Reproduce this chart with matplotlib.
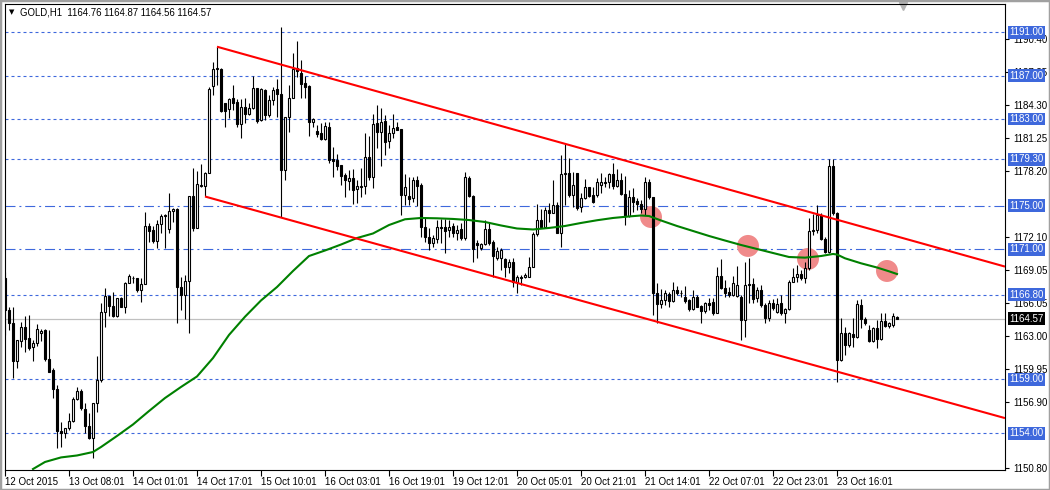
import numpy as np
import matplotlib.pyplot as plt
from matplotlib.patches import Rectangle

plt.rcParams['font.family'] = ['Liberation Sans', 'DejaVu Sans']

# GOLD H1 candles, 224 bars (12 Oct - 23 Oct 2015)
opens = [
    1168.31, 1165.38, 1164.16, 1160.70, 1162.55, 1163.79, 1162.80, 1161.94, 1162.31, 1163.23,
    1163.57, 1160.86, 1159.85, 1158.07, 1154.25, 1154.01, 1154.47, 1155.14, 1157.17, 1157.94,
    1156.25, 1154.71, 1153.55, 1156.78, 1158.93, 1165.22, 1166.70, 1165.78, 1164.86, 1166.46,
    1165.69, 1167.85, 1168.31, 1168.31, 1167.23, 1167.75, 1173.16, 1172.76, 1171.75, 1173.32,
    1174.05, 1172.85, 1174.52, 1174.70, 1167.50, 1166.77, 1168.06, 1175.90, 1172.95, 1176.82,
    1176.82, 1178.02, 1186.05, 1187.61, 1187.61, 1184.48, 1183.90, 1184.91, 1184.60, 1182.51,
    1184.08, 1183.44, 1183.99, 1185.83, 1182.91, 1185.68, 1183.37, 1184.76, 1185.74, 1185.31,
    1178.30, 1183.21, 1184.97, 1187.68, 1187.22, 1186.35, 1186.05, 1182.70, 1181.92, 1181.68,
    1181.16, 1182.24, 1179.28, 1179.22, 1178.76, 1177.84, 1177.31, 1177.59, 1176.52, 1176.76,
    1176.85, 1179.47, 1177.68, 1182.61, 1181.83, 1182.82, 1181.00, 1181.74, 1182.24, 1182.05,
    1175.99, 1175.90, 1175.69, 1177.38, 1176.91, 1173.01, 1172.09, 1171.54, 1171.93, 1173.07,
    1173.01, 1172.76, 1173.13, 1172.51, 1172.83, 1171.99, 1177.53, 1175.90, 1171.59, 1171.07,
    1171.47, 1172.83, 1171.63, 1170.21, 1170.15, 1170.09, 1169.38, 1169.78, 1167.94, 1168.45,
    1168.40, 1168.45, 1169.38, 1172.37, 1173.68, 1173.07, 1174.61, 1174.30, 1175.07, 1172.51,
    1177.90, 1177.99, 1175.99, 1177.99, 1174.91, 1175.69, 1176.70, 1175.99, 1175.99, 1176.91,
    1177.22, 1177.22, 1177.93, 1176.82, 1177.38, 1176.08, 1174.05, 1175.83, 1175.44, 1175.13,
    1174.67, 1177.22, 1175.78, 1166.92, 1165.94, 1166.31, 1166.86, 1166.24, 1167.23, 1166.98,
    1166.61, 1166.31, 1165.45, 1166.61, 1165.78, 1165.32, 1166.06, 1166.15, 1165.13, 1168.52,
    1167.38, 1167.07, 1166.77, 1166.67, 1166.61, 1164.46, 1167.69, 1167.75, 1166.46, 1167.23,
    1165.84, 1164.62, 1166.06, 1165.22, 1166.00, 1165.08, 1165.45, 1167.99, 1168.40, 1168.68,
    1168.31, 1169.23, 1172.67, 1172.76, 1174.15, 1171.90, 1170.76, 1178.67, 1174.30, 1160.77,
    1163.29, 1162.15, 1163.17, 1162.86, 1165.84, 1164.52, 1163.54, 1162.55, 1163.69, 1162.68,
    1164.37, 1163.91, 1164.00, 1164.76,
]
highs = [
    1168.92, 1165.69, 1165.69, 1162.62, 1164.25, 1164.86, 1164.92, 1162.62, 1164.09, 1163.63,
    1163.63, 1163.54, 1160.00, 1158.46, 1155.08, 1154.53, 1155.85, 1157.38, 1158.25, 1158.07,
    1156.78, 1155.85, 1156.78, 1161.14, 1166.00, 1167.44, 1166.70, 1167.02, 1166.46, 1166.61,
    1167.99, 1168.70, 1168.52, 1168.36, 1168.31, 1174.40, 1173.41, 1173.13, 1173.68, 1174.24,
    1174.24, 1176.18, 1174.79, 1174.79, 1168.43, 1168.61, 1175.90, 1178.48, 1178.21, 1178.85,
    1178.11, 1185.95, 1188.26, 1189.64, 1187.71, 1184.51, 1184.91, 1186.14, 1184.85, 1184.85,
    1184.91, 1184.45, 1187.00, 1185.89, 1185.83, 1185.74, 1185.22, 1185.98, 1186.66, 1191.52,
    1183.21, 1186.14, 1189.06, 1190.23, 1188.45, 1186.97, 1186.14, 1183.07, 1182.45, 1182.61,
    1182.75, 1182.75, 1180.39, 1179.77, 1178.76, 1177.99, 1178.30, 1178.36, 1177.38, 1178.45,
    1181.68, 1181.43, 1183.46, 1184.29, 1183.99, 1183.37, 1182.45, 1183.46, 1182.75, 1182.05,
    1177.93, 1177.68, 1177.68, 1177.74, 1177.13, 1173.84, 1172.92, 1172.30, 1173.68, 1173.75,
    1173.75, 1173.68, 1173.38, 1173.22, 1173.38, 1178.09, 1177.74, 1175.99, 1171.84, 1171.54,
    1173.68, 1173.38, 1171.84, 1171.17, 1171.13, 1170.21, 1170.06, 1170.15, 1168.61, 1168.61,
    1168.77, 1170.30, 1172.61, 1175.16, 1174.67, 1174.86, 1175.23, 1177.38, 1175.37, 1179.68,
    1180.70, 1179.38, 1178.14, 1177.99, 1176.15, 1177.44, 1176.76, 1176.76, 1177.53, 1177.99,
    1177.68, 1177.99, 1178.97, 1178.36, 1178.05, 1177.74, 1176.45, 1176.61, 1175.69, 1175.53,
    1177.68, 1177.44, 1175.83, 1167.90, 1167.29, 1167.23, 1167.07, 1167.99, 1167.60, 1167.23,
    1167.60, 1166.37, 1167.23, 1166.77, 1165.84, 1166.15, 1166.46, 1166.46, 1169.38, 1170.06,
    1168.15, 1167.53, 1168.52, 1169.44, 1166.77, 1169.84, 1170.18, 1168.31, 1167.53, 1167.69,
    1166.00, 1166.31, 1166.37, 1166.46, 1166.77, 1165.54, 1168.15, 1169.23, 1169.53, 1169.07,
    1169.84, 1173.84, 1174.21, 1175.07, 1174.30, 1172.14, 1179.35, 1179.35, 1174.45, 1164.62,
    1163.84, 1163.38, 1164.62, 1166.31, 1166.37, 1164.76, 1164.00, 1163.84, 1164.46, 1165.08,
    1165.13, 1164.31, 1165.08, 1164.87,
]
lows = [
    1163.08, 1163.54, 1159.08, 1160.00, 1161.94, 1161.54, 1161.69, 1160.70, 1162.09, 1162.55,
    1160.70, 1159.64, 1157.24, 1152.62, 1152.77, 1153.55, 1154.31, 1155.08, 1157.08, 1156.16,
    1154.01, 1153.48, 1151.70, 1156.00, 1158.77, 1163.79, 1164.86, 1164.76, 1164.76, 1165.69,
    1165.08, 1167.85, 1167.87, 1167.07, 1166.15, 1167.75, 1171.68, 1171.56, 1171.10, 1172.49,
    1171.10, 1172.49, 1173.50, 1164.18, 1165.38, 1164.55, 1163.26, 1172.67, 1172.95, 1176.73,
    1175.90, 1178.02, 1185.22, 1186.14, 1183.65, 1182.29, 1183.07, 1183.83, 1182.29, 1181.22,
    1182.61, 1183.37, 1183.90, 1182.61, 1182.85, 1182.91, 1183.21, 1184.29, 1183.21, 1173.99,
    1177.38, 1181.83, 1184.91, 1186.90, 1184.91, 1184.91, 1181.43, 1182.29, 1181.37, 1181.07,
    1181.07, 1178.92, 1177.62, 1178.30, 1176.91, 1175.83, 1176.45, 1175.16, 1175.23, 1175.83,
    1176.08, 1177.38, 1176.61, 1180.30, 1178.67, 1179.68, 1180.30, 1181.22, 1181.99, 1174.15,
    1175.07, 1175.07, 1175.37, 1174.98, 1172.14, 1171.68, 1170.92, 1171.22, 1171.54, 1171.54,
    1170.67, 1172.14, 1172.14, 1171.84, 1171.84, 1171.84, 1175.83, 1169.84, 1170.15, 1170.92,
    1171.38, 1171.38, 1168.45, 1170.00, 1169.07, 1168.45, 1168.77, 1167.53, 1166.92, 1167.69,
    1168.31, 1168.40, 1169.32, 1172.21, 1172.92, 1172.97, 1173.53, 1174.30, 1172.46, 1171.22,
    1175.07, 1175.83, 1174.91, 1174.61, 1174.45, 1175.62, 1175.83, 1175.23, 1175.83, 1176.15,
    1176.76, 1176.61, 1176.52, 1176.76, 1175.99, 1173.22, 1173.99, 1174.45, 1174.61, 1174.30,
    1174.15, 1175.59, 1164.92, 1164.16, 1165.54, 1165.84, 1165.69, 1166.15, 1166.77, 1166.61,
    1166.00, 1165.32, 1165.38, 1165.69, 1164.16, 1165.08, 1165.38, 1164.92, 1165.08, 1167.29,
    1166.61, 1166.61, 1166.67, 1166.61, 1162.61, 1162.92, 1166.03, 1166.00, 1166.15, 1165.69,
    1164.21, 1164.40, 1165.38, 1165.08, 1164.92, 1164.16, 1165.38, 1167.99, 1167.99, 1168.15,
    1167.85, 1169.07, 1172.30, 1172.46, 1171.84, 1170.61, 1170.67, 1174.15, 1158.77, 1160.70,
    1161.23, 1161.99, 1161.99, 1162.77, 1163.69, 1164.00, 1162.46, 1162.46, 1161.85, 1162.62,
    1163.84, 1163.69, 1163.84, 1164.56,
]
closes = [
    1165.38, 1164.16, 1160.70, 1162.62, 1163.79, 1162.71, 1161.88, 1162.37, 1163.63, 1163.47,
    1160.86, 1159.69, 1158.07, 1154.25, 1154.01, 1154.47, 1155.14, 1157.17, 1157.94, 1156.31,
    1154.71, 1153.55, 1156.78, 1158.93, 1165.22, 1166.70, 1165.78, 1164.86, 1166.46, 1165.69,
    1167.85, 1168.52, 1168.31, 1167.23, 1167.75, 1173.16, 1172.70, 1171.75, 1173.32, 1174.05,
    1174.15, 1174.52, 1174.70, 1167.50, 1166.77, 1168.06, 1175.90, 1172.95, 1177.01, 1176.91,
    1178.02, 1185.77, 1187.61, 1187.71, 1183.77, 1183.77, 1184.85, 1184.51, 1182.51, 1184.14,
    1183.44, 1183.99, 1185.83, 1182.82, 1185.74, 1183.37, 1184.76, 1185.68, 1185.31, 1178.30,
    1183.21, 1184.97, 1187.59, 1187.46, 1186.20, 1185.98, 1182.75, 1183.00, 1181.62, 1181.16,
    1182.36, 1179.22, 1179.16, 1178.67, 1177.77, 1177.37, 1177.59, 1176.45, 1176.82, 1176.85,
    1179.47, 1177.68, 1182.54, 1181.83, 1182.75, 1180.91, 1181.74, 1182.14, 1181.99, 1175.99,
    1176.76, 1175.59, 1177.38, 1176.85, 1173.01, 1172.14, 1171.54, 1172.00, 1173.07, 1172.92,
    1172.70, 1173.07, 1172.51, 1172.76, 1171.99, 1177.62, 1175.90, 1170.98, 1171.38, 1171.44,
    1172.83, 1171.59, 1170.39, 1170.83, 1170.89, 1169.38, 1169.84, 1167.94, 1168.45, 1168.31,
    1168.61, 1169.38, 1172.37, 1173.68, 1173.07, 1174.61, 1174.30, 1175.07, 1172.51, 1177.93,
    1177.99, 1175.99, 1176.91, 1174.82, 1175.69, 1176.70, 1175.93, 1175.32, 1177.16, 1177.22,
    1177.07, 1177.93, 1176.82, 1177.38, 1176.08, 1174.05, 1175.83, 1175.37, 1175.13, 1174.67,
    1177.22, 1175.78, 1166.92, 1165.94, 1166.31, 1166.92, 1166.24, 1167.23, 1166.92, 1166.98,
    1166.24, 1165.45, 1166.61, 1165.69, 1165.32, 1166.00, 1165.84, 1165.13, 1168.52, 1167.38,
    1166.92, 1166.77, 1167.85, 1167.69, 1164.46, 1167.69, 1167.78, 1166.37, 1167.23, 1165.84,
    1164.62, 1166.00, 1165.54, 1165.94, 1165.08, 1165.45, 1167.99, 1168.40, 1168.68, 1168.31,
    1169.23, 1172.67, 1172.76, 1174.15, 1171.90, 1170.76, 1178.67, 1174.30, 1160.77, 1163.29,
    1162.15, 1163.23, 1162.86, 1165.94, 1164.52, 1164.21, 1162.55, 1163.69, 1162.68, 1164.37,
    1163.91, 1164.16, 1164.86, 1164.57,
]

# moving average (bar index, price)
ma_bars = [7, 10, 14, 18, 22, 24, 28, 32, 36, 40, 44, 48, 52, 56, 60, 64, 68, 72, 76, 80,
           84, 88, 92, 96, 100, 104, 108, 112, 116, 120, 124, 128, 132, 136, 140, 144, 148, 152, 156, 159,
           161, 164, 168, 172, 176, 180, 184, 188, 192, 196, 200, 204, 207, 208, 210, 214, 218, 221, 223]
ma_values = [1150.71, 1151.36, 1151.78, 1151.96, 1152.28, 1152.74, 1153.76, 1154.82, 1156.06, 1157.26,
             1158.28, 1159.25, 1160.95, 1163.08, 1164.76, 1166.26, 1167.50, 1168.98, 1170.36, 1170.87,
             1171.42, 1172.02, 1172.44, 1173.22, 1173.75, 1173.87, 1173.84, 1173.78, 1173.68, 1173.50,
             1173.18, 1172.90, 1172.81, 1172.95, 1173.13, 1173.41, 1173.66, 1173.87, 1174.01, 1174.10,
             1174.05, 1173.64, 1173.13, 1172.67, 1172.21, 1171.79, 1171.38, 1171.01, 1170.64, 1170.27,
             1170.21, 1170.36, 1170.55, 1170.50, 1170.15, 1169.69, 1169.30, 1168.95, 1168.70]

# channel trend lines (bar index, price) for the two anchors
upper_bars = [53, 208]
upper_prices = [1189.67, 1173.71]
lower_bars = [50, 208]
lower_prices = [1175.85, 1159.70]

levels = [1191.00, 1187.00, 1183.00, 1179.30, 1175.00, 1171.00, 1166.80, 1159.00, 1154.00]
level_kinds = ['dash', 'dash', 'dash', 'dash', 'dashdot', 'dashdot', 'dash', 'dash', 'dash']

mark_bars = [161.5, 185.75, 200.75, 220.5]
mark_prices = [1173.96, 1171.29, 1170.09, 1168.98]

last_price = 1164.57
price_ticks = [1190.40, 1187.35, 1184.30, 1181.25, 1178.20, 1172.10,
               1169.05, 1166.05, 1163.00, 1159.95, 1156.90, 1150.80]
time_ticks = [0, 16, 32, 48, 64, 80, 96, 112, 128, 144, 160, 176, 192, 208]
time_labels = ['12 Oct 2015', '13 Oct 08:01', '14 Oct 01:01', '14 Oct 17:01', '15 Oct 10:01',
               '16 Oct 03:01', '16 Oct 19:01', '19 Oct 12:01', '20 Oct 05:01', '20 Oct 21:01',
               '21 Oct 14:01', '22 Oct 07:01', '22 Oct 23:01', '23 Oct 16:01']

BLUE = '#3e68dc'

fig = plt.figure(figsize=(10.5, 4.9), dpi=100)
ax = fig.add_axes([4.5 / 1050, 20 / 490, 1000.5 / 1050, 466 / 490])
ax.set_xlim(-0.125, 250)
ax.set_ylim(1150.62, 1193.61)

# candles
x = np.arange(len(opens))
o, h, l, c = (np.array(v) for v in (opens, highs, lows, closes))
up = c >= o
ax.vlines(x, l, h, color='black', lw=0.8, zorder=3)
ax.bar(x, np.abs(c - o), bottom=np.minimum(o, c), width=0.5,
       color=np.where(up, 'white', 'black'), edgecolor='black', linewidth=0.8, zorder=4)

# horizontal levels with labels on the price scale
ytr = ax.get_yaxis_transform()
for lvl, kind in zip(levels, level_kinds):
    ls = (0, (2.7, 2.7)) if kind == 'dash' else (0, (9, 3.5, 1.8, 3.5))
    ax.axhline(lvl, color=BLUE, lw=0.8, ls=ls, zorder=1)
    ax.text(1.0045, lvl, f'{lvl:.2f}', transform=ytr, ha='left', va='center', fontsize=7,
            color='white', zorder=10, clip_on=False,
            bbox=dict(boxstyle='square,pad=0.15', fc=BLUE, ec='none'))

ax.axhline(last_price, color='#c0c0c0', lw=0.9, zorder=1)
ax.text(1.0045, last_price, f'{last_price:.2f}', transform=ytr, ha='left', va='center',
        fontsize=7, color='white', zorder=10, clip_on=False,
        bbox=dict(boxstyle='square,pad=0.15', fc='black', ec='none'))

# marked points
ax.scatter(mark_bars, mark_prices, s=250, color='#f08a8a', edgecolors='none', zorder=2)

# moving average
ax.plot(ma_bars, ma_values, color='#008000', lw=1.5, zorder=5)

# channel rays
x_end = 250
for bars, prices in ((upper_bars, upper_prices), (lower_bars, lower_prices)):
    slope = (prices[1] - prices[0]) / (bars[1] - bars[0])
    ax.plot([bars[0], x_end], [prices[0], prices[0] + slope * (x_end - bars[0])],
            color='red', lw=1.5, zorder=6, solid_capstyle='butt')

# axes styling
ax.yaxis.tick_right()
ax.set_yticks(price_ticks)
ax.set_yticklabels([f'{t:.2f}' for t in price_ticks])
ax.set_xticks(time_ticks)
ax.set_xticklabels(time_labels, ha='left')
ax.tick_params(axis='y', length=3, width=0.8, pad=3, labelsize=7)
ax.tick_params(axis='x', length=4, width=0.8, pad=1, labelsize=7)
for sp in ax.spines.values():
    sp.set_linewidth(0.8)

# header
fig.text(9 / 1050, 1 - 12.5 / 490, '\u25bc', fontsize=5, va='center', family=['DejaVu Sans'])
fig.text(20 / 1050, 1 - 12.5 / 490, 'GOLD,H1  1164.76 1164.87 1164.56 1164.57', fontsize=6.9, va='center')
ax.plot(0.898, 0.996, marker='v', color='#b4b4b4', ms=6, clip_on=False, transform=ax.transAxes)

fig.add_artist(Rectangle((0, 0), 1, 1, transform=fig.transFigure, fill=False, ec='#a0a0a0', lw=2.5))

fig.savefig('out.png', dpi=100)
